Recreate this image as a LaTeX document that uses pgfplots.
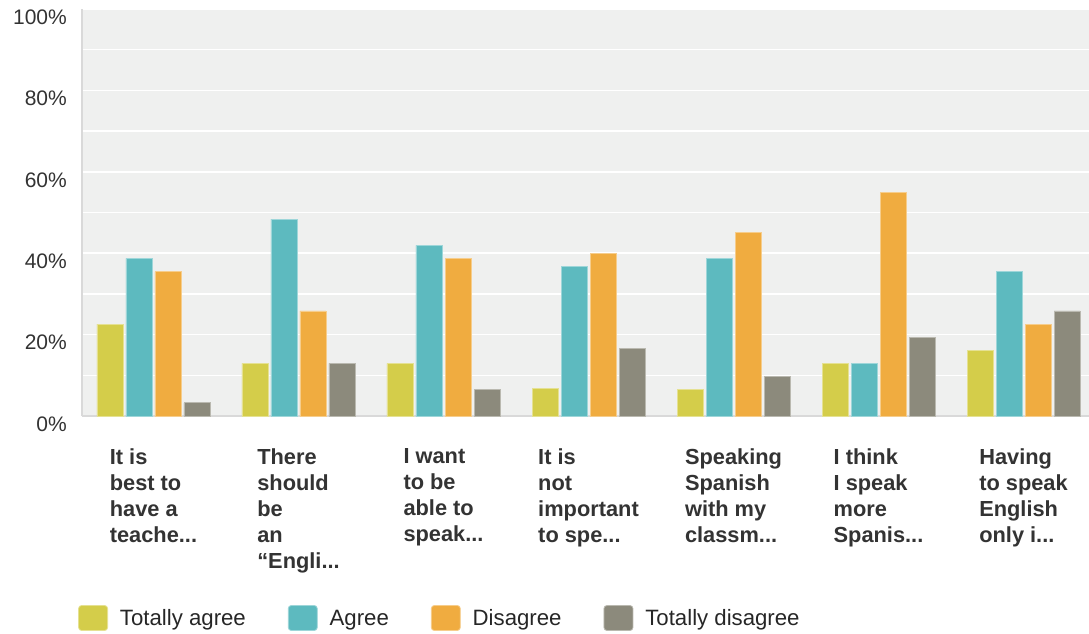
\documentclass[border=0pt]{standalone}
\usepackage{pgfplots}
\pgfplotsset{compat=1.18}
\usepackage{fontspec}
\setmainfont{Liberation Sans}
\definecolor{cta}{HTML}{D4CD4A}
\definecolor{ca}{HTML}{5DBABF}
\definecolor{cd}{HTML}{F0AC40}
\definecolor{ctd}{HTML}{8C8A7C}
\definecolor{bgc}{HTML}{EFF0EF}
\definecolor{txt}{HTML}{333333}
\newcommand{\dd}{.{}.{}.}
\begin{document}
\begin{tikzpicture}
\begin{axis}[
  at={(0pt,0pt)}, anchor=south west,
  scale only axis, width=1007pt, height=407pt,
  xmin=-0.493, xmax=6.452, ymin=0, ymax=100,
  ybar=3pt, bar width=26pt,
  axis background/.style={fill=bgc},
  axis x line*=bottom, axis y line*=left,
  axis line style={draw=black!15, line width=2pt},
  xtick={0,1,2,3,4,5,6},
  xticklabels={{It is\\best to\\have a\\teache\dd},
               {There\\should\\be\\an\\“Engli\dd},
               {I want\\to be\\able to\\speak\dd},
               {It is\\not\\important\\to spe\dd},
               {Speaking\\Spanish\\with my\\classm\dd},
               {I think\\I speak\\more\\Spanis\dd},
               {Having\\to speak\\English\\only i\dd}},
  ytick={0,20,40,60,80,100},
  minor ytick={10,30,50,70,90},
  yticklabels={0\%,20\%,40\%,60\%,80\%,100\%},
  ymajorgrids, yminorgrids,
  major grid style={white, line width=1.6pt},
  minor grid style={white, line width=1.6pt},
  major tick length=0pt, minor tick length=0pt,
  tick style={draw=none},
  yticklabel style={font=\fontsize{21}{25}\selectfont, text=txt, inner sep=0pt, xshift=-15pt, yshift=-8pt},
  xticklabel style={align=left, font=\bfseries\fontsize{21.8}{26}\selectfont, text=txt, anchor=north, inner sep=0pt, yshift=-32pt},
  legend columns=4,
  legend style={at={(0,0)}, anchor=west, xshift=-4pt, yshift=-202pt,
    draw=none, fill=none, inner sep=0pt,
    font=\fontsize{22.2}{26}\selectfont, text=black!85,
    nodes={inner sep=0pt, anchor=west},
    /tikz/every odd column/.append style={column sep=12pt},
    /tikz/every even column/.append style={column sep=42pt}},
  legend image code/.code={\fill[#1, rounded corners=3pt] (0pt,-12pt) rectangle (29pt,13pt);},
]
\addplot[fill=cta, draw=cta!60!white, line width=0.8pt] coordinates {(0,22.58) (1,12.90) (2,12.90) (3,6.67) (4,6.45) (5,12.90) (6,16.13)};
\addplot[fill=ca, draw=ca!60!white, line width=0.8pt] coordinates {(0,38.71) (1,48.39) (2,41.94) (3,36.67) (4,38.71) (5,12.90) (6,35.48)};
\addplot[fill=cd, draw=cd!60!white, line width=0.8pt] coordinates {(0,35.48) (1,25.81) (2,38.71) (3,40.00) (4,45.16) (5,54.84) (6,22.58)};
\addplot[fill=ctd, draw=ctd!60!white, line width=0.8pt] coordinates {(0,3.23) (1,12.90) (2,6.45) (3,16.67) (4,9.68) (5,19.35) (6,25.81)};
\legend{Totally agree, Agree, Disagree, Totally disagree}
\end{axis}
\pgfresetboundingbox
\path (-82pt,-218pt) rectangle (1007pt,416pt);
\end{tikzpicture}
\end{document}
